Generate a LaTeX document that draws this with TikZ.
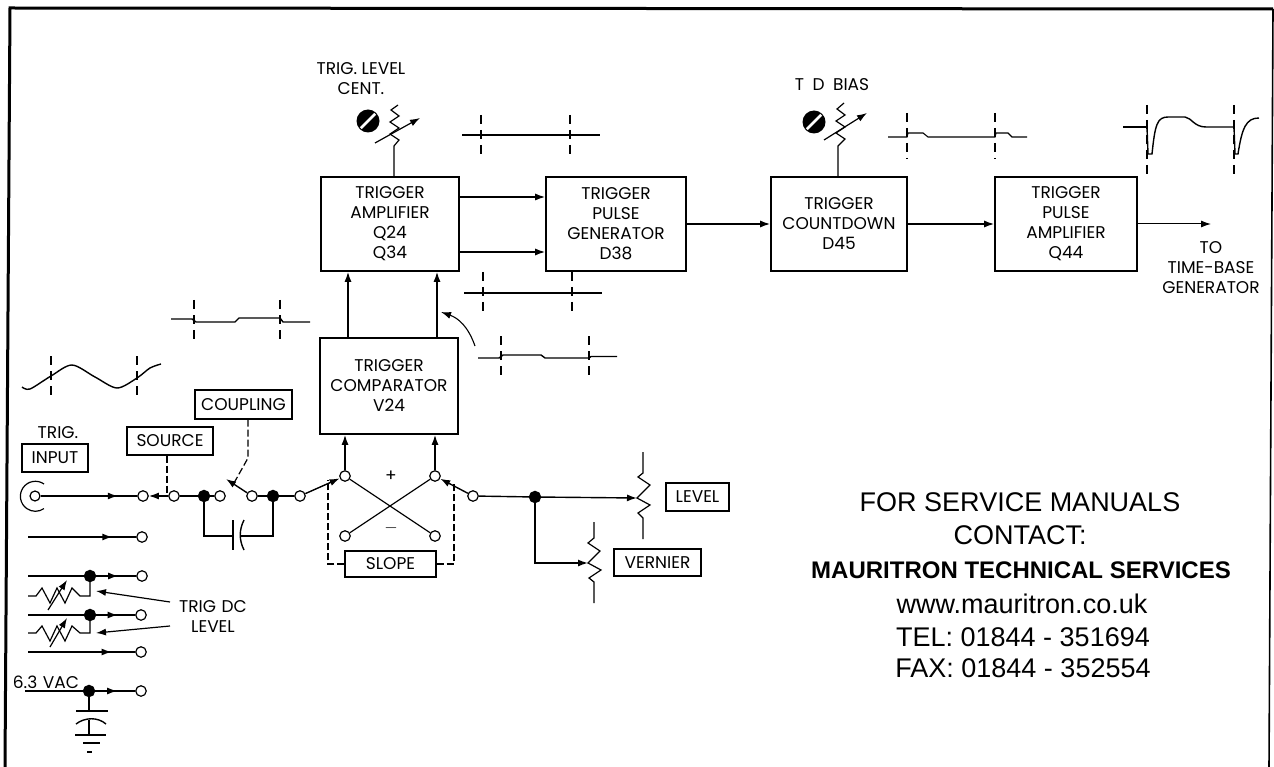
\documentclass[tikz,border=0pt]{standalone}
\usepackage{fontspec}
\setmainfont{Poppins}
\newfontfamily\svcfont{Liberation Sans}
\usetikzlibrary{arrows.meta,calc,decorations.markings}

\begin{document}
\begin{tikzpicture}[x=1pt,y=-1pt,line width=1.4pt,>={Latex[length=10pt,width=7pt]},
blk/.style={draw,line width=1.6pt,minimum width=138pt,minimum height=94pt,inner sep=0pt,align=center,font=\fontsize{17}{20}\selectfont},
tag/.style={draw,line width=1.3pt,inner sep=0pt,font=\fontsize{17}{18}\selectfont},
lbl/.style={inner sep=0pt,align=center,font=\fontsize{17}{20}\selectfont},
svc/.style={inner sep=0pt,font=\svcfont\fontsize{27}{30}\selectfont},
term/.style={draw,circle,fill=white,line width=1.2pt,minimum size=10.5pt,inner sep=0pt},
dot/.style={draw,circle,fill=black,minimum size=11pt,inner sep=0pt},
screw/.style={circle,fill=black,minimum size=23pt,inner sep=0pt},
sig/.style={->},ctl/.style={dashed,dash pattern=on 7pt off 3pt,line width=1.2pt},
flow/.style={postaction={decorate},decoration={markings,mark=at position #1 with {\arrow{>}}}},
wave/.style={line width=1.4pt},tick/.style={line width=1.3pt,dash pattern=on 9pt off 6pt}]
\useasboundingbox (0,0) rectangle (1274,767);
\draw[line width=3pt] (5,767)--(10,8)--(1273,9);
\draw[line width=1.6pt] (1273,9)--(1269,767);

\node[blk] (amp) at (390,224) {TRIGGER\\AMPLIFIER\\Q24\\Q34};
\node[blk,minimum width=140pt] (gen) at (616,224) {TRIGGER\\PULSE\\GENERATOR\\D38};
\node[blk,minimum width=136pt] (cntd) at (839,224) {TRIGGER\\COUNTDOWN\\D45};
\node[blk,minimum width=142pt] (pamp) at (1066,224) {TRIGGER\\PULSE\\AMPLIFIER\\Q44};
\node[blk,minimum height=96pt] (cmp) at (389,386) {TRIGGER\\COMPARATOR\\V24};
\coordinate (tbgen) at (1211,224);
\node[lbl,anchor=north] (tolbl) at (1211,241) {TO\\TIME-BASE\\GENERATOR};
\draw[sig] ([yshift=-28pt]amp.east)--([yshift=-28pt]gen.west);
\draw[sig] ([yshift=27pt]amp.east)--([yshift=27pt]gen.west);
\draw[sig] (gen.east)--(cntd.west);
\draw[sig] (cntd.east)--(pamp.west);
\draw[sig,line width=1pt] (pamp.east)--(tbgen);
\draw[sig] ([xshift=-41pt]cmp.north)--([xshift=-42pt]amp.south);
\draw[sig] ([xshift=48pt]cmp.north)--([xshift=47pt]amp.south);

\node[lbl] (lvlcent) at (361,79) {TRIG. LEVEL\\CENT.};
\node[screw] (scra) at (368,121) {};
\draw[white,line width=2.6pt,shorten >=2pt,shorten <=2pt] (scra.south west)--(scra.north east);
\coordinate (rca) at (394,146);
\draw[line width=1.2pt] (398,105)--++(-7,5)--++(8,6)--++(-9,6)--++(9,6)--++(-9,6)--++(9,6)--(rca)--(rca |- amp.north);
\draw[sig,line width=1.2pt] (375,143)--(420,118);
\node[lbl] (tdbias) at (832,85) {T\,\,\,D\,\,\,BIAS};
\node[screw] (scrb) at (814,122) {};
\draw[white,line width=2.6pt,shorten >=2pt,shorten <=2pt] (scrb.south west)--(scrb.north east);
\coordinate (rcb) at (838,146);
\draw[line width=1.2pt] (844,103)--++(-7,6)--++(8,6)--++(-9,6)--++(9,6)--++(-9,6)--++(9,6)--(rcb)--(rcb |- cntd.north);
\draw[sig,line width=1.2pt] (824,140)--(867,113);

\draw[wave] (462,135)--(600,135);
\foreach \x in {481,570} \draw[tick] (\x,115)--(\x,157);
\draw[wave] (464,293)--(602,293);
\foreach \x in {483,572} \draw[tick] (\x,272)--(\x,315);
\draw[wave] (171,319)--(192,319)--(196,322)--(235,322)--(239,318)--(280,318)--(283,322)--(310,322);
\foreach \x in {194,280} \draw[tick] (\x,300)--(\x,342);
\draw[wave] (478,358)--(499,358)--(503,355)--(541,355)--(545,358)--(589,358)--(591,356.5)--(617,356.5);
\foreach \x in {501,589} \draw[tick] (\x,336)--(\x,380);
\draw[wave] plot[smooth] coordinates {(22,387) (30,389) (51,376) (72,365) (95,377) (117,388) (137,378) (150,368) (161,364)};
\foreach \x in {51,137} \draw[tick] (\x,356)--(\x,399);
\draw[wave,line width=1.1pt] (888,137)--(907,137)--(908,133)--(923,133)--(928,137)--(995,137)--(996,133)--(1008,133)--(1012,137)--(1027,137);
\foreach \x in {907,995} \draw[tick] (\x,113)--(\x,159);
\draw[wave,line width=2pt] (1123,127)--(1146,127);
\draw[wave] (1147,127)--(1148,154)--(1152,154) .. controls (1155,125) and (1157,117) .. (1168,117)--(1185,117) .. controls (1192,118) and (1194,127) .. (1206,127)--(1234,127)--(1235,154)--(1238,154) .. controls (1242,128) and (1246,118) .. (1259,118);
\foreach \x in {1147,1234} \draw[tick] (\x,105)--(\x,175);
\coordinate (crvs) at (475,346);
\coordinate (crve) at (441,312);
\draw[->,line width=1.1pt] (crvs) .. controls (468,326) and (458,318) .. (crve);

\node[lbl] (trig) at (58,433) {TRIG.};
\node[tag,minimum width=66pt,minimum height=28pt] (input) at (55,458) {INPUT};
\node[tag,minimum width=86pt,minimum height=28pt] (source) at (170,441) {SOURCE};
\node[tag,minimum width=97pt,minimum height=29pt] (coupling) at (243.5,404.5) {COUPLING};
\node[term,minimum size=10pt] (bnc) at (35,496) {};
\draw[line width=1.2pt] (44,484) arc[start angle=55,end angle=305,radius=15pt];
\node[term] (srca) at (143,496) {};
\node[term] (srcb) at (174,496) {};
\node[dot] (cpa) at (204,496) {};
\node[term] (cpo) at (220,496) {};
\node[term] (cpb) at (252,496) {};
\node[dot] (cpc) at (273,496) {};
\node[term] (slin) at (300,496) {};
\node[term] (sla) at (345,476) {};
\node[term] (slb) at (435,476) {};
\node[term] (slc) at (345,536) {};
\node[term] (sld) at (435,536) {};
\node[term] (slout) at (473,496) {};
\node[dot] (lvl) at (535,497) {};
\node[lbl] (plus) at (391,476) {+};
\node[lbl] (minus) at (391,528) {$-$};
\node[tag,minimum width=91pt,minimum height=26pt] (slope) at (390.5,564) {SLOPE};
\node[tag,minimum width=63pt,minimum height=28pt] (level) at (697.5,497) {LEVEL};
\node[tag,minimum width=87pt,minimum height=27pt] (vernier) at (657.5,562.5) {VERNIER};
\draw[flow=.8] (bnc)--(srca);
\draw[->] (srcb)--(srca);
\draw (srcb)--(cpa)--(cpo);
\draw[->] (cpb)--(226,479);
\draw (cpb)--(cpc)--(slin);
\draw[->] (slin)--(sla);
\draw[->] (slout)--(slb);
\draw (slout)--(lvl);
\draw[line width=1.2pt] (sla)--(sld);
\draw[line width=1.2pt] (slb)--(slc);
\draw[sig] (sla)--(sla |- cmp.south);
\draw[sig] (slb)--(slb |- cmp.south);
\draw[ctl] (source.south -| 167,0)--(167,494);
\draw[ctl] (coupling.south -| 248,0)--(248,458)--(234,483);
\draw[ctl] (slope.west)--(328,564)--(328,480);
\draw[ctl] (slope.east)--(454,564)--(454,484);
\coordinate (capl) at (233,536);
\coordinate (capr) at (240,536);
\draw (cpa)--(cpa |- capl)--(capl);
\draw (cpc)--(cpc |- capr)--(capr);
\draw (233,520)--(233,550);
\draw (244,520) .. controls (239,530) and (239,540) .. (244,550);

\coordinate (lvlw) at (637,498);
\draw[sig] (lvl)--(lvlw);
\draw[line width=1.2pt] (643,452)--(643,473)--(638,477)--(650,485)--(637,498)--(650,505)--(638,513)--(643,518)--(643,539);
\coordinate (verw) at (588,563);
\draw[sig] (lvl)--(lvl |- verw)--(verw);
\draw[line width=1.2pt] (594,522)--(594,538)--(588,543)--(600,551)--(588,563)--(601,570)--(589,578)--(594,582)--(594,603);

\coordinate (rowb) at (28,537);
\coordinate (rowc) at (28,576);
\coordinate (rowd) at (28,615);
\coordinate (rowe) at (28,652);
\coordinate (rowf) at (25,691);
\node[term] (tb) at (142,537) {};
\node[term] (tc) at (142,576) {};
\node[term] (td) at (141,615) {};
\node[term] (te) at (141,652) {};
\node[term] (tf) at (141,691) {};
\node[dot] (dc) at (90,576) {};
\node[dot] (dd) at (90,615) {};
\node[dot] (df) at (89,691) {};
\draw[flow=.78] (rowb)--(tb);
\draw (rowc)--(dc);
\draw[flow=.55] (dc)--(tc);
\draw (rowd)--(dd);
\draw[flow=.55] (dd)--(td);
\draw[flow=.78] (rowe)--(te);
\draw (rowf)--(df);
\draw[flow=.55] (df)--(tf);
\draw[line width=1.2pt] (28,596)--(36,596)--(42,588)--(50,603)--(57,588)--(65,603)--(72,588)--(80,596)--(90,596)--(dc);
\draw[line width=1.2pt] (28,633)--(36,633)--(42,626)--(50,641)--(57,626)--(65,641)--(72,626)--(80,633)--(90,633)--(dd);
\draw[sig,line width=1.2pt] (48,610)--(67,580);
\draw[sig,line width=1.2pt] (50,647)--(67,618);
\node[lbl] (dclvl) at (213,616) {TRIG\,\,DC\\LEVEL};
\coordinate (dcna) at (96,591);
\coordinate (dcnb) at (96,633);
\draw[sig,line width=1.2pt] (170,602)--(dcna);
\draw[sig,line width=1.2pt] (170,626)--(dcnb);
\node[lbl] (vac) at (46,682) {6.3\,\,VAC};
\coordinate (capt) at (89,711);
\coordinate (capg) at (89,735);
\draw (df)--(capt);
\draw (76,711)--(108,711);
\draw (76,724) .. controls (85,717) and (98,717) .. (106,724);
\draw (89,720)--(capg);
\draw (75,735)--(106,735);
\draw (83,743)--(100,743);
\draw (87,752)--(92,752);

\node[svc] (svca) at (1020,502) {FOR SERVICE MANUALS};
\node[svc] (svcb) at (1020,535) {CONTACT:};
\node[svc,font=\svcfont\bfseries\fontsize{24}{30}\selectfont] (svcc) at (1021,570) {MAURITRON TECHNICAL SERVICES};
\node[svc] (svcd) at (1022,604) {www.mauritron.co.uk};
\node[svc] (svce) at (1023,637) {TEL: 01844 - 351694};
\node[svc] (svcf) at (1023,668) {FAX: 01844 - 352554};
\end{tikzpicture}
\end{document}
